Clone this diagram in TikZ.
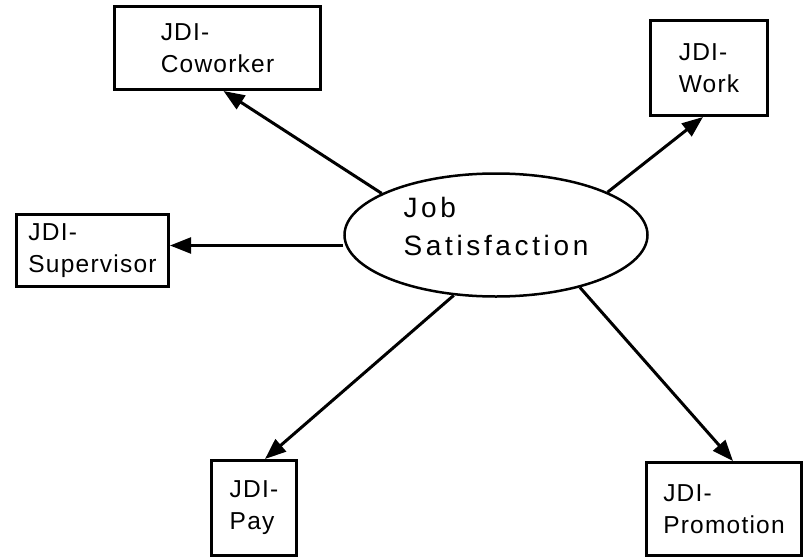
\documentclass[tikz,border=0pt]{standalone}
\usepackage{fontspec}
\usetikzlibrary{arrows.meta,shapes.geometric}
\newfontfamily\lblfont{Liberation Sans}[LetterSpace=5]
\newfontfamily\hubfont{Liberation Sans}[LetterSpace=13]
\begin{document}
\begin{tikzpicture}[x=1pt,y=-1pt,
  boxnode/.style={draw,line width=3pt,rectangle,inner sep=0pt,align=left,
    font=\lblfont\fontsize{24.5}{32}\selectfont},
  hubnode/.style={draw,line width=2.5pt,ellipse,inner sep=0pt,
    minimum width=303pt,minimum height=123pt},
  hubtext/.style={inner sep=0pt,align=left,
    font=\hubfont\fontsize{28}{38}\selectfont},
  link/.style={line width=3pt,-{Triangle[length=21pt,width=16pt]}}]
  \useasboundingbox (0,0) rectangle (807,560);

  % central construct
  \node[hubnode] (js) at (496,235) {};
  \node[hubtext] (jst) at (496,226) {Job\\Satisfaction};

  % JDI facets
  \node[boxnode,minimum width=206pt,minimum height=83pt] (cw) at (217.5,48) {JDI-\\Coworker};
  \node[boxnode,minimum width=117pt,minimum height=95pt] (wk) at (709,68) {JDI-\\Work};
  \node[boxnode,minimum width=152pt,minimum height=72pt] (sv) at (92.5,250.5) {JDI-\\Supervisor};
  \node[boxnode,minimum width=85pt,minimum height=95pt] (py) at (254,508) {JDI-\\Pay};
  \node[boxnode,minimum width=155pt,minimum height=93pt] (pr) at (724,509) {JDI-\\Promotion};

  % arrow end points on the facet boxes
  \coordinate (cwin) at ([xshift=6pt]cw.south);
  \coordinate (wkin) at ([xshift=-6pt]wk.south);
  \coordinate (svin) at ([yshift=5pt]sv.east);
  \coordinate (pyin) at ([xshift=11pt]py.north);
  \coordinate (prin) at ([xshift=9pt]pr.north);

  % loadings
  \draw[link] (js.160.9) -- (cwin);
  \draw[link] (js.21.4) -- (wkin);
  \draw[link,line width=2.2pt] (js.west |- svin) -- (svin);
  \draw[link] (js.235) -- (pyin);
  \draw[link] (js.328.6) -- (prin);
\end{tikzpicture}
\end{document}
